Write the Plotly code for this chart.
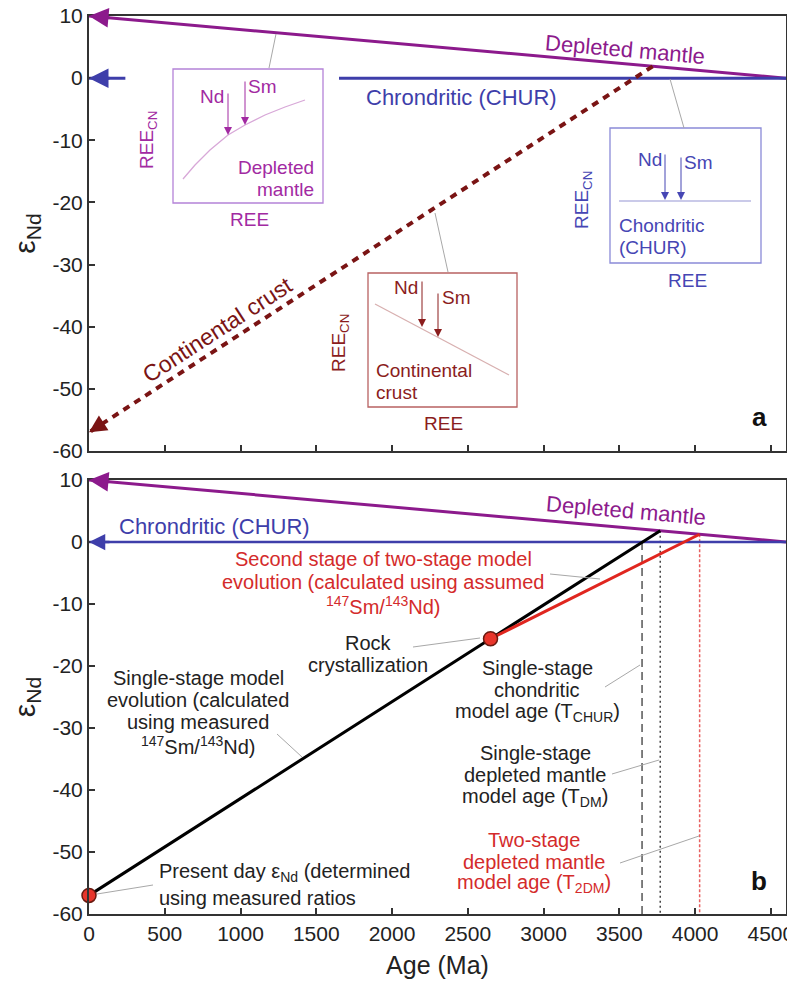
import numpy as np
import plotly.graph_objects as go

# ---------------- data ----------------
AGE_TICKS = [0, 500, 1000, 1500, 2000, 2500, 3000, 3500, 4000, 4500]
AGE_TICK_LABELS = [str(v) for v in AGE_TICKS]
EPS_TICKS = [10, 0, -10, -20, -30, -40, -50, -60]
EPS_TICK_LABELS = ["10", "0", "-10", "-20", "-30", "-40", "-50", "-60"]

# reservoir evolution lines (age Ma, epsilon Nd); last point carries the arrowhead
DM_AGE = [4600, 0]
DM_EPS = [0, 10]
CHUR_AGE = [4600, 0]
CHUR_EPS = [0, 0]
CC_AGE = [3720, 0]
CC_EPS = [1.9, -57]

# panel b: sample evolution
SINGLE_AGE = [3770, 2650, 0]
SINGLE_EPS = [1.8, -15.6, -57]
TWO_STAGE_AGE = [2650, 4030]
TWO_STAGE_EPS = [-15.6, 1.25]
POINT_AGE = [0, 2650]
POINT_EPS = [-57, -15.6]
MODEL_AGE = [3650, 3770, 4030]          # T_CHUR, T_DM, T_2DM
MODEL_AGE_TOP = [0, 1.8, 1.25]

# ---------------- style / geometry ----------------
PAGE_OFF = 8                      # default body margin of the html page
W, H = 795 - PAGE_OFF, 987 - PAGE_OFF
PL, PR, PT, PB = 89, 786, 16, 914  # plot area in page pixels
ML, MR, MT, MB = PL - PAGE_OFF, 795 - PR, PT - PAGE_OFF, 987 - PB
PW, PH = PR - PL, PB - PT
A_TOP, A_BOT = 16, 451
B_TOP, B_BOT = 480, 914
XMAX = 4600
SX = PW / XMAX
SYA = (A_BOT - A_TOP) / 70
SYB = (B_BOT - B_TOP) / 70
CHUR_GAP_A = (240, 1650)

FONT = "Liberation Sans, Arial, Helvetica, sans-serif"
PURPLE = "#8c1a8c"
BLUE = "#3e3eaa"
DARKRED = "#7a1414"
RED = "#e0261f"
TXT = "#222222"
RTXT = "#d42b2b"
GRAY = "#a8a8a8"


def A(px, py):
    return (px - PL) / SX, 10 - (py - A_TOP) / SYA


def B(px, py):
    return (px - PL) / SX, 10 - (py - B_TOP) / SYB


annots = []
shapes = []


def txt(panel, px, py, text, color=TXT, size=20, xanchor="center", angle=0, bold=False):
    conv = A if panel == "a" else B
    x, y = conv(px, py)
    r = "" if panel == "a" else "2"
    annots.append(dict(x=x, y=y, xref="x" + r, yref="y" + r, text=("<b>%s</b>" % text) if bold else text,
                       showarrow=False, xanchor=xanchor, yanchor="middle", textangle=angle,
                       font=dict(family=FONT, size=size, color=color)))


def seg(panel, p1, p2, color=GRAY, width=1, dash="solid"):
    conv = A if panel == "a" else B
    x0, y0 = conv(*p1)
    x1, y1 = conv(*p2)
    r = "" if panel == "a" else "2"
    shapes.append(dict(type="line", x0=x0, y0=y0, x1=x1, y1=y1, xref="x" + r, yref="y" + r,
                       line=dict(color=color, width=width, dash=dash)))


def rect(panel, p1, p2, color):
    conv = A if panel == "a" else B
    x0, y0 = conv(*p1)
    x1, y1 = conv(*p2)
    r = "" if panel == "a" else "2"
    shapes.append(dict(type="rect", x0=x0, y0=y0, x1=x1, y1=y1, xref="x" + r, yref="y" + r,
                       line=dict(color=color, width=1.3), fillcolor="rgba(0,0,0,0)"))


def poly(panel, pts, color, width=1.3):
    conv = A if panel == "a" else B
    d = ""
    for i, p in enumerate(pts):
        x, y = conv(*p)
        d += ("M" if i == 0 else "L") + "%.3f,%.3f" % (x, y)
    r = "" if panel == "a" else "2"
    shapes.append(dict(type="path", path=d, xref="x" + r, yref="y" + r, line=dict(color=color, width=width)))


def small_arrow(panel, tip, tail, color):
    conv = A if panel == "a" else B
    x, y = conv(*tip)
    ax, ay = conv(*tail)
    r = "" if panel == "a" else "2"
    annots.append(dict(x=x, y=y, ax=ax, ay=ay, xref="x" + r, yref="y" + r, axref="x" + r, ayref="y" + r,
                       showarrow=True, arrowhead=2, arrowsize=1.6, arrowwidth=1, arrowcolor=color, text=""))


def head(panel, xs, ys, color, width, L=22, size=1.3):
    """arrowhead at the last point of a data line"""
    sy = SYA if panel == "a" else SYB
    xt, yt, xp, yp = xs[-1], ys[-1], xs[-2], ys[-2]
    d = np.hypot((xp - xt) * SX, (yp - yt) * sy)
    f = L / d
    r = "" if panel == "a" else "2"
    annots.append(dict(x=xt, y=yt, ax=xt + (xp - xt) * f, ay=yt + (yp - yt) * f,
                       xref="x" + r, yref="y" + r, axref="x" + r, ayref="y" + r,
                       showarrow=True, arrowhead=2, arrowsize=size, arrowwidth=width,
                       arrowcolor=color, text="", standoff=0))


fig = go.Figure()

# ---------------- panel a ----------------
fig.add_trace(go.Scatter(x=DM_AGE, y=DM_EPS, mode="lines", line=dict(color=PURPLE, width=3),
                         xaxis="x", yaxis="y", showlegend=False))
fig.add_trace(go.Scatter(x=[CHUR_AGE[0], CHUR_GAP_A[1], None, CHUR_GAP_A[0], CHUR_AGE[1]],
                         y=[CHUR_EPS[0], CHUR_EPS[0], None, CHUR_EPS[1], CHUR_EPS[1]],
                         mode="lines", line=dict(color=BLUE, width=3), xaxis="x", yaxis="y", showlegend=False))
fig.add_trace(go.Scatter(x=CC_AGE, y=CC_EPS, mode="lines", line=dict(color=DARKRED, width=4, dash="7px,6px"),
                         xaxis="x", yaxis="y", showlegend=False))
head("a", DM_AGE, DM_EPS, PURPLE, 3)
head("a", [CHUR_GAP_A[0], CHUR_AGE[1]], [CHUR_EPS[1], CHUR_EPS[1]], BLUE, 3)
head("a", CC_AGE, CC_EPS, DARKRED, 3.5, L=18, size=1.0)

txt("a", 625, 49, "Depleted mantle", PURPLE, 22, angle=5)
txt("a", 461, 97, "Chrondritic (CHUR)", BLUE, 22)
txt("a", 217, 330, "Continental crust", DARKRED, 23, angle=-33)
txt("a", 759, 417, "a", "#111111", 26, bold=True)

# inset: depleted mantle
IP, IPB, IPL = "#a22aa2", "#b483d8", "#d8a8d8"
rect("a", (173, 69), (323, 203), IPB)
poly("a", [(183, 179), (195, 165), (210, 150), (228, 135), (245, 125), (265, 115), (285, 107), (305, 100)], IPL)
txt("a", 212, 96, "Nd", IP, 19)
txt("a", 262, 86, "Sm", IP, 19)
small_arrow("a", (228, 135), (228, 92), IP)
small_arrow("a", (245, 125), (245, 80), IP)
txt("a", 316, 167, "Depleted", IP, 19, xanchor="right")
txt("a", 316, 189, "mantle", IP, 19, xanchor="right")
txt("a", 148, 140, "REE<sub>CN</sub>", IP, 19, angle=-90)
txt("a", 249, 219, "REE", IP, 19)
seg("a", (269, 68), (276, 34))

# inset: chondritic
IB, IBB, IBL = "#4646b4", "#8a8ad8", "#b8b8e2"
rect("a", (610, 128), (761, 263), IBB)
poly("a", [(619, 201), (751, 201)], IBL, 1.5)
txt("a", 650, 159, "Nd", IB, 19)
txt("a", 698, 162, "Sm", IB, 19)
small_arrow("a", (665, 200), (665, 153), IB)
small_arrow("a", (681, 200), (681, 156), IB)
txt("a", 617, 225, "Chondritic", IB, 19, xanchor="left")
txt("a", 617, 247, "(CHUR)", IB, 19, xanchor="left")
txt("a", 583, 200, "REE<sub>CN</sub>", IB, 19, angle=-90)
txt("a", 687, 280, "REE", IB, 19)
seg("a", (684, 128), (670, 79))

# inset: continental crust
IR, IRB, IRL = "#8b1d1d", "#b86262", "#d8b0b0"
rect("a", (368, 273), (517, 407), IRB)
poly("a", [(375, 304), (509, 375)], IRL, 1.3)
txt("a", 406, 287, "Nd", IR, 19)
txt("a", 456, 297, "Sm", IR, 19)
small_arrow("a", (422, 327), (422, 280), IR)
small_arrow("a", (438, 337), (438, 292), IR)
txt("a", 374, 370, "Continental", IR, 19, xanchor="left")
txt("a", 374, 392, "crust", IR, 19, xanchor="left")
txt("a", 340, 343, "REE<sub>CN</sub>", IR, 19, angle=-90)
txt("a", 443, 423, "REE", IR, 19)
seg("a", (448, 272), (435, 213))

# ---------------- panel b ----------------
fig.add_trace(go.Scatter(x=[MODEL_AGE[0]] * 2, y=[MODEL_AGE_TOP[0], EPS_TICKS[-1]], mode="lines",
                         line=dict(color="#555555", width=1.5, dash="8px,5px"), xaxis="x2", yaxis="y2", showlegend=False))
fig.add_trace(go.Scatter(x=[MODEL_AGE[1]] * 2, y=[MODEL_AGE_TOP[1], EPS_TICKS[-1]], mode="lines",
                         line=dict(color="#444444", width=1.5, dash="2px,3px"), xaxis="x2", yaxis="y2", showlegend=False))
fig.add_trace(go.Scatter(x=[MODEL_AGE[2]] * 2, y=[MODEL_AGE_TOP[2], EPS_TICKS[-1]], mode="lines",
                         line=dict(color="#e86060", width=1.5, dash="3px,2px"), xaxis="x2", yaxis="y2", showlegend=False))
fig.add_trace(go.Scatter(x=DM_AGE, y=DM_EPS, mode="lines", line=dict(color=PURPLE, width=3),
                         xaxis="x2", yaxis="y2", showlegend=False))
fig.add_trace(go.Scatter(x=CHUR_AGE, y=CHUR_EPS, mode="lines", line=dict(color=BLUE, width=2.5),
                         xaxis="x2", yaxis="y2", showlegend=False))
fig.add_trace(go.Scatter(x=SINGLE_AGE, y=SINGLE_EPS, mode="lines", line=dict(color="#000000", width=3),
                         xaxis="x2", yaxis="y2", showlegend=False))
fig.add_trace(go.Scatter(x=TWO_STAGE_AGE, y=TWO_STAGE_EPS, mode="lines", line=dict(color=RED, width=3),
                         xaxis="x2", yaxis="y2", showlegend=False))
fig.add_trace(go.Scatter(x=POINT_AGE, y=POINT_EPS, mode="markers",
                         marker=dict(color="#e8352b", size=14, line=dict(color="#6a1a10", width=1.5)),
                         xaxis="x2", yaxis="y2", showlegend=False, cliponaxis=False))
head("b", DM_AGE, DM_EPS, PURPLE, 3)
head("b", CHUR_AGE, CHUR_EPS, BLUE, 2.5)

txt("b", 626, 510, "Depleted mantle", PURPLE, 22, angle=5)
txt("b", 214, 526, "Chrondritic (CHUR)", BLUE, 22)
txt("b", 759, 881, "b", "#111111", 26, bold=True)

SUP = "<sup>147</sup>Sm/<sup>143</sup>Nd)"
for py, t in zip([559, 582, 605], ["Second stage of two-stage model", "evolution (calculated using assumed", SUP]):
    txt("b", 383, py, t, RTXT, 20)
seg("b", (550, 574), (600, 579))
for py, t in zip([643, 665], ["Rock", "crystallization"]):
    txt("b", 368, py, t, TXT, 20)
seg("b", (413, 647), (480, 638))
for py, t in zip([678, 700, 722, 745], ["Single-stage model", "evolution (calculated", "using measured", SUP]):
    txt("b", 198, py, t, TXT, 20)
seg("b", (277, 734), (302, 757))
for py, t in zip([872, 898], ["Present day ε<sub>Nd</sub> (determined", "using measured ratios"]):
    txt("b", 157, py, t, TXT, 20, xanchor="left")
seg("b", (97, 894), (153, 885))
for py, t in zip([668, 690, 712], ["Single-stage", "chondritic", "model age (T<sub>CHUR</sub>)"]):
    txt("b", 537, py, t, TXT, 20)
seg("b", (605, 687), (640, 665))
for py, t in zip([753, 775, 797], ["Single-stage", "depleted mantle", "model age (T<sub>DM</sub>)"]):
    txt("b", 535, py, t, TXT, 20)
seg("b", (612, 774), (659, 760))
for py, t in zip([840, 862, 883], ["Two-stage", "depleted mantle", "model age (T<sub>2DM</sub>)"]):
    txt("b", 534, py, t, RTXT, 20)
seg("b", (620, 863), (699, 836))

# ---------------- axes ----------------
axis_common = dict(range=[0, XMAX], showgrid=False, zeroline=False, showline=True, mirror=True,
                   linecolor="#333333", linewidth=2, ticks="inside", ticklen=6, tickwidth=1.5,
                   tickcolor="#333333", tickvals=AGE_TICKS, ticktext=AGE_TICK_LABELS,
                   tickfont=dict(family=FONT, size=21, color=TXT), ticklabeloverflow="allow")
yaxis_common = dict(range=[-60, 10], showgrid=False, zeroline=False, showline=True, mirror=True,
                    linecolor="#333333", linewidth=2, ticks="inside", ticklen=6, tickwidth=1.5,
                    tickcolor="#333333", tickvals=EPS_TICKS, ticktext=EPS_TICK_LABELS,
                    tickfont=dict(family=FONT, size=21, color=TXT), ticklabeloverflow="allow",
                    title=dict(text="ε<sub>Nd</sub>", font=dict(family=FONT, size=30, color=TXT), standoff=8))

dom_a = [1 - (A_BOT - PT) / PH, 1]
dom_b = [0, 1 - (B_TOP - PT) / PH]

fig.update_layout(
    width=W, height=H, margin=dict(l=ML, r=MR, t=MT, b=MB, autoexpand=False),
    paper_bgcolor="white", plot_bgcolor="white",
    xaxis=dict(axis_common, anchor="y", showticklabels=False),
    yaxis=dict(yaxis_common, domain=dom_a, anchor="x"),
    xaxis2=dict(axis_common, anchor="y2",
                title=dict(text="Age (Ma)", font=dict(family=FONT, size=25, color=TXT), standoff=12)),
    yaxis2=dict(yaxis_common, domain=dom_b, anchor="x2"),
    annotations=annots, shapes=shapes, showlegend=False,
)

fig.write_html("out.html")
